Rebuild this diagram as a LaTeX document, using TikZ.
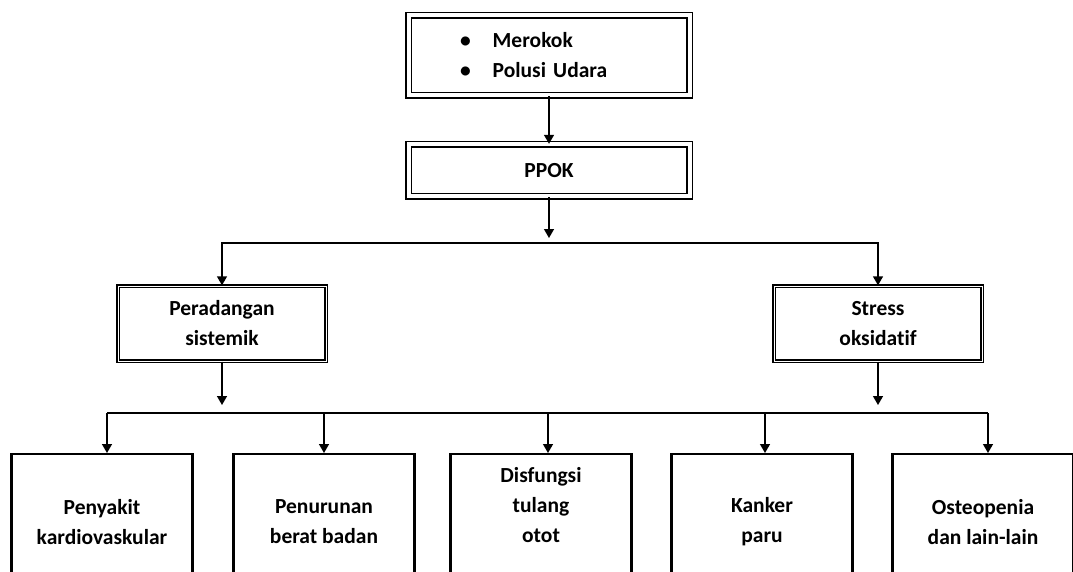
\documentclass[tikz,border=0pt]{standalone}
\usepackage{fontspec}
\setmainfont[Ligatures=NoCommon]{Carlito}
\usetikzlibrary{arrows.meta}

\tikzset{
  txt/.style={font=\fontsize{21.5}{30}\selectfont\bfseries, align=center, inner sep=0pt},
  topbox/.style={draw, double, double distance=4pt, line width=1.4pt, minimum width=281pt},
  midbox/.style={draw, double, double distance=0.8pt, line width=1.4pt, minimum width=208pt, minimum height=75pt},
  lowbox/.style={draw, line width=2.4pt, minimum width=181pt, minimum height=160pt, anchor=north},
  arr/.style={-{Triangle[width=10pt,length=9pt]}, line width=1.4pt}
}

\begin{document}
\begin{tikzpicture}[x=1pt, y=-1pt]
  \useasboundingbox (0,0) rectangle (1073,572);

  % Penyebab
  \node[topbox, txt, align=left, text width=178pt, inner xsep=51pt, minimum height=80pt] (cause) at (549,55.5)
    {\textbullet\hspace{22pt}Merokok\\\textbullet\hspace{22pt}Polusi Udara};

  % PPOK
  \node[topbox, txt, minimum height=52pt] (ppok) at (549,170.5) {PPOK};
  \draw[arr] (cause) -- (ppok);

  % Mekanisme
  \node[midbox, txt] (inflam) at (222,323.5) {Peradangan\\sistemik};
  \node[midbox, txt] (stress) at (878,323.5) {Stress\\oksidatif};

  \coordinate (ppokend) at (549,238);
  \coordinate (bus1) at (549,243);
  \draw[arr] (ppok) -- (ppokend);
  \draw[arr] (bus1) -| (inflam.north);
  \draw[arr] (bus1) -| (stress.north);

  % Komorbiditas
  \node[lowbox] (b1) at (102,453) {};
  \node[lowbox] (b2) at (324,453) {};
  \node[lowbox] (b3) at (541,453) {};
  \node[lowbox] (b4) at (762,453) {};
  \node[lowbox] (b5) at (983,453) {};

  \node[txt] (t1) at (102,522) {Penyakit\\kardiovaskular};
  \node[txt] (t2) at (324,522) {Penurunan\\berat badan};
  \node[txt] (t3) at (541,505) {Disfungsi\\tulang\\otot};
  \node[txt] (t4) at (762,522) {Kanker\\paru};
  \node[txt] (t5) at (983,522) {Osteopenia\\dan lain-lain};

  \coordinate (inflamend) at (222,405);
  \coordinate (stressend) at (878,405);
  \coordinate (bus2) at (548,413);
  \draw[arr] (inflam) -- (inflamend);
  \draw[arr] (stress) -- (stressend);
  \draw[line width=1.4pt] ([xshift=5pt]b1.north |- bus2) -- ([xshift=5pt]b5.north |- bus2);
  \draw[arr] ([xshift=5pt]b1.north |- bus2) -- ([xshift=5pt]b1.north);
  \draw[arr] (b2.north |- bus2) -- (b2.north);
  \draw[arr] ([xshift=7pt]b3.north |- bus2) -- ([xshift=7pt]b3.north);
  \draw[arr] ([xshift=3pt]b4.north |- bus2) -- ([xshift=3pt]b4.north);
  \draw[arr] ([xshift=5pt]b5.north |- bus2) -- ([xshift=5pt]b5.north);
\end{tikzpicture}
\end{document}
